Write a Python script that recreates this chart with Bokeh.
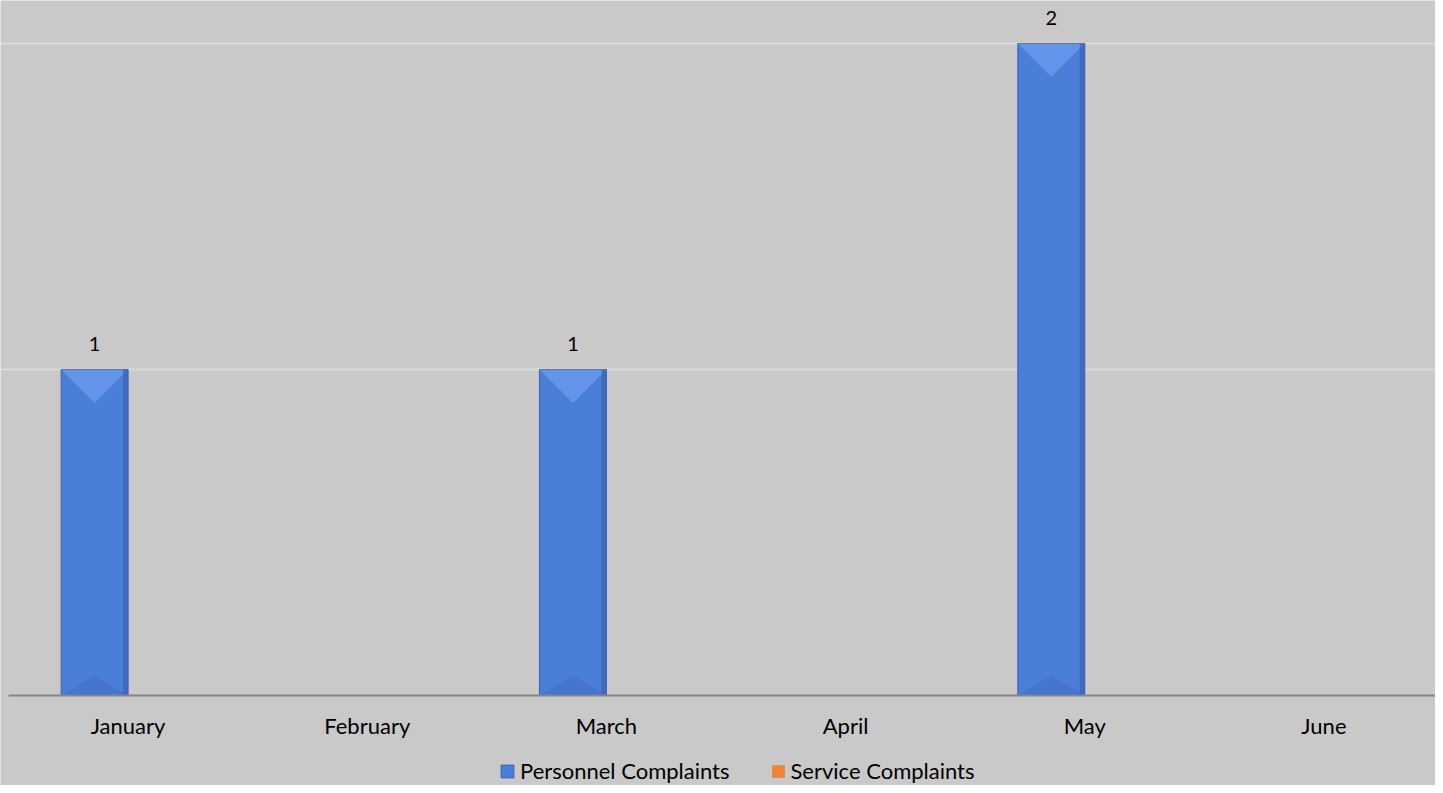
from bokeh.plotting import figure
from bokeh.models import (Range1d, FixedTicker, ColumnDataSource, LabelSet,
                          Legend, LegendItem)
from bokeh.core.properties import value
from bokeh.embed import file_html
from bokeh.resources import INLINE
import numpy as np

# ---- data ----
months = ["January", "February", "March", "April", "May", "June"]
personnel = [1, 0, 1, 0, 2, 0]
service = [0, 0, 0, 0, 0, 0]
series_names = ["Personnel Complaints", "Service Complaints"]

# ---- style / layout ----
FONT = "Lato"
BG = "#C9C9C9"
BLUE = "#4B7ED9"
BLUE_LIGHT = "#6A99EE"
BLUE_DARK = "#3B63B3"
ORANGE = "#EE8636"
GRID = "#DADADA"
AXIS = "#868686"

W, H = 1435, 785
LEFT = 8
CAT_PX = 239.17          # pixels per category
Y_PX = 326.0             # pixels per unit
BASE_PX = 695            # baseline from top
BAR_W = 0.28
n = len(months)
x_end = (W - LEFT) / CAT_PX

p = figure(output_backend="svg", toolbar_location=None,
           width=W, height=H,
           x_range=Range1d(-LEFT / CAT_PX, x_end),
           y_range=Range1d(-(H - BASE_PX) / Y_PX, BASE_PX / Y_PX),
           y_axis_location=None,
           min_border_left=0, min_border_right=0, min_border_top=0,
           min_border_bottom=0,
           background_fill_color=BG, border_fill_color=BG,
           outline_line_color=None)

centers = np.arange(n) + 0.5
px = centers - BAR_W / 2
sx = centers + BAR_W / 2

r1 = p.vbar(x=px, top=personnel, width=BAR_W, fill_color=BLUE,
            line_color=BLUE_DARK, line_width=1)
r2 = p.vbar(x=sx, top=service, width=BAR_W, fill_color=ORANGE,
            line_color=None)

# bevel shading derived from data
half = BAR_W / 2
depth = half * CAT_PX / Y_PX
tops_x, tops_y, bots_x, bots_y = [], [], [], []
for xc, v in zip(px, personnel):
    if v > 0:
        tops_x.append([xc - half, xc + half, xc])
        tops_y.append([v, v, v - depth])
        bots_x.append([xc - half, xc + half, xc])
        bots_y.append([0, 0, depth * 0.6])
p.patches(tops_x, tops_y, fill_color=BLUE_LIGHT, fill_alpha=0.8, line_color=None)
p.patches(bots_x, bots_y, fill_color="#3F6CC4", fill_alpha=0.5, line_color=None)
strip = 5 / CAT_PX
p.vbar(x=[xc + half - strip / 2 for xc, v in zip(px, personnel) if v > 0],
       top=[v for v in personnel if v > 0], width=strip,
       fill_color=BLUE_DARK, fill_alpha=0.7, line_color=None)

# data labels
lab = ColumnDataSource(dict(
    x=[xc for xc, v in zip(px, personnel) if v > 0],
    y=[v for v in personnel if v > 0],
    t=[str(v) for v in personnel if v > 0]))
p.add_layout(LabelSet(x="x", y="y", text="t", source=lab, y_offset=19,
                      text_align="center", text_baseline="alphabetic",
                      text_font=value(FONT), text_font_size=value("20px"),
                      text_color="#000000"))

# axes / grid
p.xaxis.fixed_location = 0
p.xaxis.bounds = (0, x_end)
p.xaxis.ticker = FixedTicker(ticks=list(centers))
p.xaxis.major_label_overrides = {float(c): m for c, m in zip(centers, months)}
p.xaxis.axis_line_color = AXIS
p.xaxis.axis_line_width = 2
p.xaxis.major_tick_line_color = None
p.xaxis.minor_tick_line_color = None
p.xaxis.major_label_text_font = FONT
p.xaxis.major_label_text_font_size = "22px"
p.xaxis.major_label_text_color = "#000000"
p.xaxis.major_label_standoff = 10
p.xgrid.visible = False
p.ygrid.ticker = FixedTicker(ticks=[1, 2])
p.ygrid.grid_line_color = GRID
p.ygrid.grid_line_width = 2

legend = Legend(items=[LegendItem(label=series_names[0], renderers=[r1]),
                       LegendItem(label=series_names[1], renderers=[r2])],
                orientation="horizontal", location=(499, 1),
                background_fill_color=BG, background_fill_alpha=0,
                border_line_color=None,
                label_text_font=FONT, label_text_font_size="22px",
                label_text_color="#000000",
                glyph_width=16, glyph_height=16, spacing=40,
                label_standoff=5, padding=0, margin=0)
p.add_layout(legend, "center")

open("out.html", "w").write(file_html(p, INLINE))
